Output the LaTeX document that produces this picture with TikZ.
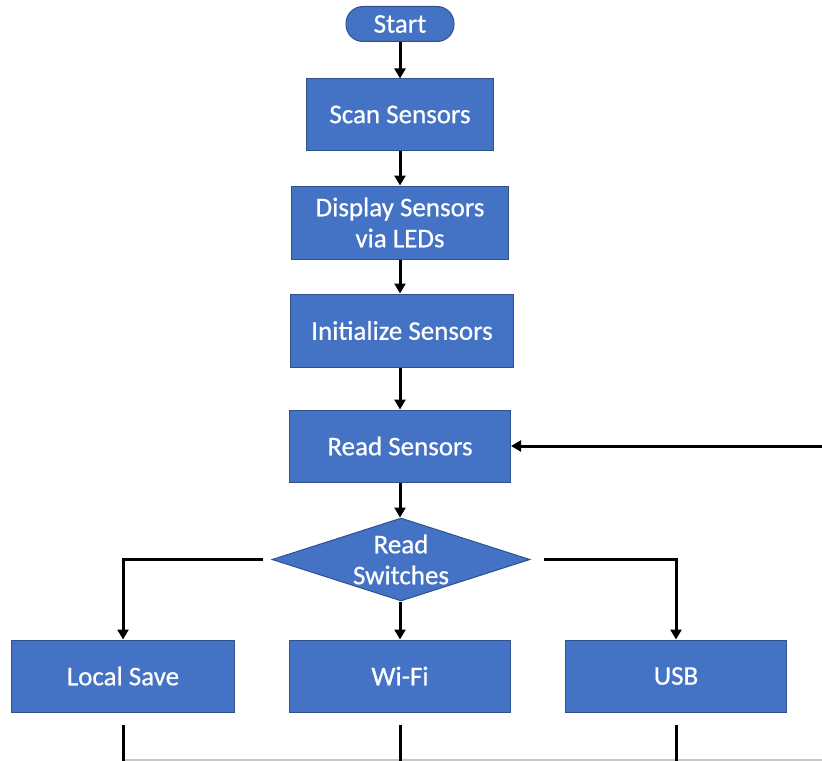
\documentclass[tikz,border=0pt]{standalone}
\usepackage{fontspec}
\setmainfont{Carlito}
\newfontfamily\boxfont[FakeBold=0.6]{Carlito}
\usetikzlibrary{shapes.geometric,arrows.meta}

\definecolor{boxfill}{HTML}{4472C4}
\definecolor{boxline}{HTML}{2F528F}

\begin{document}
\begin{tikzpicture}[x=1bp, y=-1bp,
    box/.style={draw=boxline, fill=boxfill, line width=1bp, text=white,
        font=\boxfont\fontsize{27bp}{31bp}\selectfont, align=center, inner sep=0pt},
    term/.style={box, rounded corners=17bp},
    decision/.style={box, diamond, aspect=3.1},
    flow/.style={line width=3bp, -{Triangle[width=11bp,length=10bp]}},
    link/.style={line width=3bp, shorten <=12bp}]
    \useasboundingbox (0,0) rectangle (822,761);

    % main column
    \node[term, minimum width=108bp, minimum height=35bp] (start) at (400,24) {Start};
    \node[box, minimum width=187bp, minimum height=71bp] (scan) at (400,114.5) {Scan Sensors};
    \node[box, minimum width=217bp, minimum height=73bp] (display) at (400,222.5) {Display Sensors\\via LEDs};
    \node[box, minimum width=223bp, minimum height=73bp] (init) at (402,330.5) {Initialize Sensors};
    \node[box, minimum width=221bp, minimum height=72bp] (read) at (400,446) {Read Sensors};
    \node[decision, minimum width=258bp, minimum height=83bp] (switch) at (401,559.5) {Read\\Switches};

    % outputs
    \node[box, minimum width=222bp, minimum height=72bp] (local) at (123,676) {Local Save};
    \node[box, minimum width=221bp, minimum height=72bp] (wifi) at (400,676) {Wi-Fi};
    \node[box, minimum width=221bp, minimum height=72bp] (usb) at (676,676) {USB};

    \draw[flow] (start) -- (scan);
    \draw[flow] (scan) -- (display);
    \draw[flow] (display.south) -- (display.south |- init.north);
    \draw[flow] (read.south |- init.south) -- (read.north);
    \draw[flow] (read) -- (read.south |- switch.north);
    \draw[flow] (switch.south -| wifi.north) -- (wifi.north);
    \draw[flow, shorten <=9bp] (switch.west) -| (local.north);
    \draw[flow, shorten <=13bp] (switch.east) -| (usb.north);

    % loop back into the sensor read
    \coordinate (back) at (822,446);
    \draw[flow] (back) -- (read.east);

    % leads running off the bottom
    \coordinate (busl) at (123,760);
    \coordinate (busr) at (822,760);
    \draw[black!22, line width=1.5bp] (busl) -- (busr);
    \foreach \n in {local,wifi,usb}
        \draw[link] (\n.south) -- (\n.south |- 0,761);
\end{tikzpicture}
\end{document}
